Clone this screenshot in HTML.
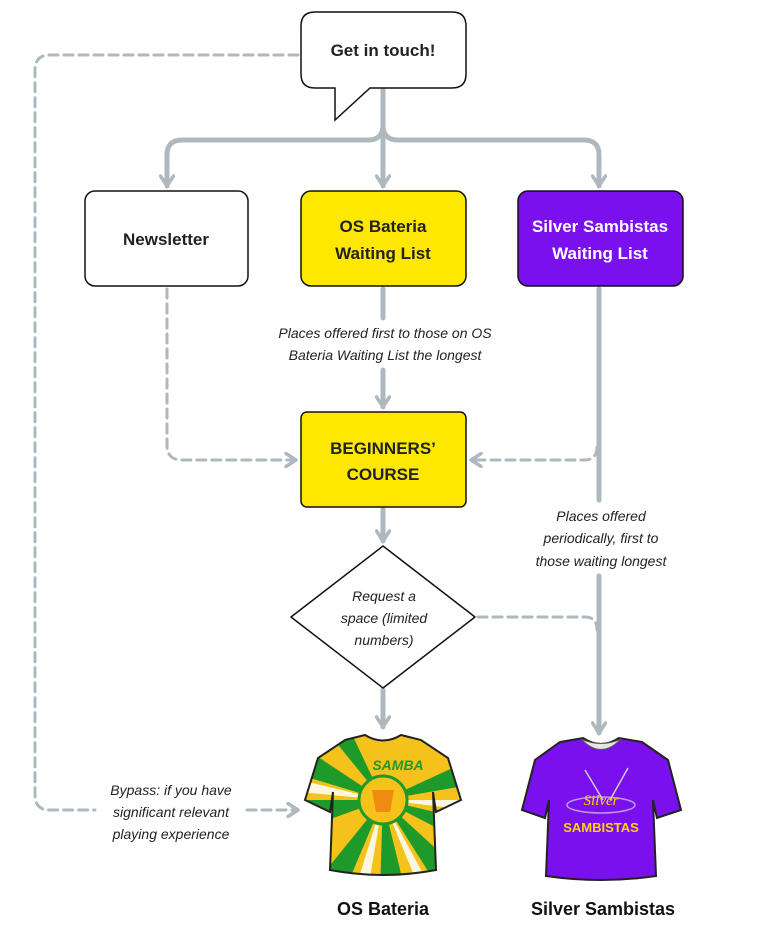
<!DOCTYPE html>
<html><head><meta charset="utf-8"><style>
html,body{margin:0;padding:0;background:#fff;}
svg{display:block;}
.b{font-family:"Liberation Sans",sans-serif;font-weight:bold;}
.i{font-family:"Liberation Sans",sans-serif;font-style:italic;fill:#222;font-size:14px;}
</style></head><body>
<svg width="766" height="933" viewBox="0 0 766 933" xmlns="http://www.w3.org/2000/svg">
<defs>
<marker id="ah" viewBox="0 0 16 16" refX="13" refY="8" markerWidth="16" markerHeight="16" markerUnits="userSpaceOnUse" orient="auto">
<path d="M3,1.5 L13,8 L3,14.5" fill="none" stroke="#aeb8bf" stroke-width="3.5" stroke-linecap="round" stroke-linejoin="round"/>
</marker>
<clipPath id="osc"><path d="M345,740 L365,735 Q383,746 401,735 L421,740 L448,758 L461,800 L436,812 L433,792 L436,870 Q383,880 330,870 L333,792 L330,812 L305,800 L318,758 Z"/></clipPath>
</defs>
<g fill="none" stroke="#aeb8bf" stroke-width="5" stroke-linecap="round">
<path d="M383,88 L383,186" marker-end="url(#ah)"/>
<path d="M383,125 Q383,140 368,140 L182,140 Q167,140 167,155 L167,186" marker-end="url(#ah)"/>
<path d="M383,125 Q383,140 398,140 L584,140 Q599,140 599,155 L599,186" marker-end="url(#ah)"/>
<path d="M383,289 L383,318"/>
<path d="M383,370 L383,407" marker-end="url(#ah)"/>
<path d="M599,289 L599,500"/>
<path d="M599,576 L599,733" marker-end="url(#ah)"/>
<path d="M383,509 L383,541" marker-end="url(#ah)"/>
<path d="M383,690 L383,727" marker-end="url(#ah)"/>
</g>
<g fill="none" stroke="#aeb8bf" stroke-width="3" stroke-dasharray="9,6" stroke-linecap="round">
<path d="M167,289 L167,445 Q167,460 182,460 L296,460" marker-end="url(#ah)"/>
<path d="M597,447 Q597,460 584,460 L471,460" marker-end="url(#ah)"/>
<path d="M478,617 L585,617 Q597,617 597,630"/>
<path d="M298,55 L50,55 Q35,55 35,70 L35,795 Q35,810 50,810 L95,810"/>
<path d="M247,810 L298,810" marker-end="url(#ah)"/>
</g>
<path d="M315,12 L452,12 Q466,12 466,26 L466,74 Q466,88 452,88 L370,88 L335,120 L335,88 L315,88 Q301,88 301,74 L301,26 Q301,12 315,12 Z" fill="#fff" stroke="#111" stroke-width="1.5"/>
<text x="383" y="56" text-anchor="middle" class="b" font-size="17" fill="#222">Get in touch!</text>
<rect x="85" y="191" width="163" height="95" rx="10" fill="#fff" stroke="#111" stroke-width="1.5"/>
<text x="166" y="245" text-anchor="middle" class="b" font-size="17" fill="#222">Newsletter</text>
<rect x="301" y="191" width="165" height="95" rx="10" fill="#FFE800" stroke="#111" stroke-width="1.5"/>
<text x="383" y="232" text-anchor="middle" class="b" font-size="17" fill="#222">OS Bateria</text>
<text x="383" y="259" text-anchor="middle" class="b" font-size="17" fill="#222">Waiting List</text>
<rect x="518" y="191" width="165" height="95" rx="10" fill="#7B10EE" stroke="#111" stroke-width="1.5"/>
<text x="600" y="232" text-anchor="middle" class="b" font-size="17" fill="#fff">Silver Sambistas</text>
<text x="600" y="259" text-anchor="middle" class="b" font-size="17" fill="#fff">Waiting List</text>
<text x="385" y="338" text-anchor="middle" class="i">Places offered first to those on OS</text>
<text x="385" y="360" text-anchor="middle" class="i">Bateria Waiting List the longest</text>
<rect x="301" y="412" width="165" height="95" rx="6" fill="#FFE800" stroke="#111" stroke-width="1.5"/>
<text x="383" y="454" text-anchor="middle" class="b" font-size="17" fill="#222">BEGINNERS’</text>
<text x="383" y="480" text-anchor="middle" class="b" font-size="17" fill="#222">COURSE</text>
<text x="601" y="521" text-anchor="middle" class="i">Places offered</text>
<text x="601" y="543" text-anchor="middle" class="i">periodically, first to</text>
<text x="601" y="566" text-anchor="middle" class="i">those waiting longest</text>
<path d="M383,546 L475,617 L383,688 L291,617 Z" fill="#fff" stroke="#111" stroke-width="1.5" stroke-linejoin="round"/>
<text x="384" y="601" text-anchor="middle" class="i">Request a</text>
<text x="384" y="623" text-anchor="middle" class="i">space (limited</text>
<text x="384" y="645" text-anchor="middle" class="i">numbers)</text>
<text x="171" y="795" text-anchor="middle" class="i">Bypass: if you have</text>
<text x="171" y="817" text-anchor="middle" class="i">significant relevant</text>
<text x="171" y="839" text-anchor="middle" class="i">playing experience</text>
<g clip-path="url(#osc)">
<rect x="300" y="730" width="170" height="160" fill="#F5C21B"/>
<g fill="#1E9A2A">
<path d="M383,800 L300,745 L300,775 Z"/>
<path d="M383,800 L300,800 L300,830 Z"/>
<path d="M383,800 L310,890 L345,890 Z"/>
<path d="M383,800 L380,890 L405,890 Z"/>
<path d="M383,800 L440,890 L470,880 Z"/>
<path d="M383,800 L470,820 L470,845 Z"/>
<path d="M383,800 L470,760 L470,785 Z"/>
<path d="M383,800 L350,730 L330,735 Z"/>
</g>
<g fill="#fff" opacity="0.85">
<path d="M383,800 L300,780 L300,792 Z"/>
<path d="M383,800 L355,890 L368,890 Z"/>
<path d="M383,800 L470,800 L470,810 Z"/>
<path d="M383,800 L420,890 L432,890 Z"/>
</g>
<circle cx="383" cy="800" r="24" fill="#F5C21B" stroke="#1E9A2A" stroke-width="3"/>
<path d="M372,790 L394,790 L390,812 L376,812 Z" fill="#F08A10"/>
<text x="398" y="770" text-anchor="middle" class="b" font-size="14" fill="#1E9A2A" font-style="italic">SAMBA</text>
</g>
<path d="M345,740 L365,735 Q383,746 401,735 L421,740 L448,758 L461,800 L436,812 L433,792 L436,870 Q383,880 330,870 L333,792 L330,812 L305,800 L318,758 Z" fill="none" stroke="#222" stroke-width="2"/>
<path d="M560,742 L583,738 Q601,750 619,738 L642,742 L668,760 L681,810 L657,818 L653,800 L656,876 Q601,884 546,876 L549,800 L545,818 L522,810 L535,760 Z" fill="#7B10EE" stroke="#222" stroke-width="2"/>
<path d="M581,739 Q601,760 621,739 Q601,748 581,739 Z" fill="#e6e6e6" stroke="#555"/>
<ellipse cx="601" cy="805" rx="34" ry="8" fill="none" stroke="#b99cf0" stroke-width="1.5"/>
<path d="M585,770 L603,800 M628,768 L610,800" stroke="#ccc" stroke-width="1.5"/>
<text x="601" y="805" text-anchor="middle" font-family="Liberation Serif,serif" font-style="italic" font-size="15" fill="#FFD400">Silver</text>
<text x="601" y="832" text-anchor="middle" class="b" font-size="13" fill="#FFD400">SAMBISTAS</text>
<text x="383" y="915" text-anchor="middle" class="b" font-size="18" fill="#111">OS Bateria</text>
<text x="603" y="915" text-anchor="middle" class="b" font-size="18" fill="#111">Silver Sambistas</text>
</svg>
</body></html>
